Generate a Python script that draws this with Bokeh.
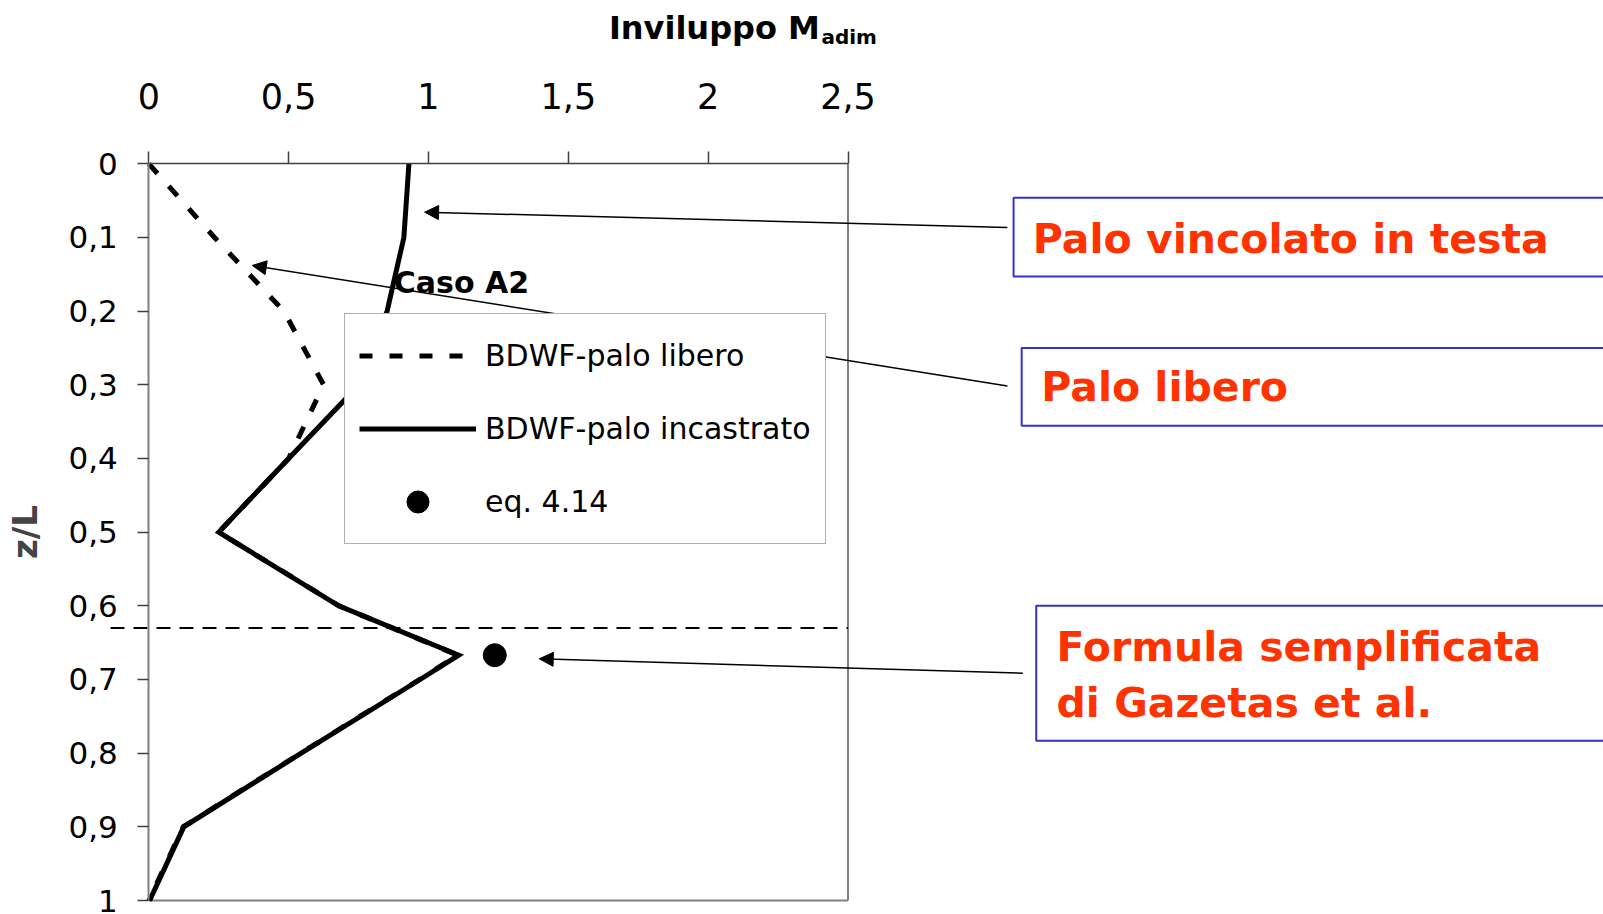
from bokeh.plotting import figure
from bokeh.models import (Range1d, FixedTicker, Label, Legend, LegendItem,
                          Arrow, NormalHead, BoxAnnotation)
from bokeh.embed import file_html
from bokeh.resources import INLINE

# ---------------- data ----------------
z_levels = [0.0, 0.1, 0.2, 0.3, 0.4, 0.5, 0.6, 0.667, 0.7, 0.8, 0.9, 1.0]
m_libero = [0.0, 0.235, 0.483, 0.625, 0.50, 0.25, 0.68, 1.105, 0.968, 0.543, 0.123, 0.0]
m_incastrato = [0.930, 0.912, 0.852, 0.752, 0.50, 0.25, 0.679, 1.108, 0.970, 0.545, 0.125, 0.003]
eq414_m = [1.237]
eq414_z = [0.667]
z_ref = 0.63

x_ticks = [0, 0.5, 1, 1.5, 2, 2.5]
x_tick_labels = ["0", "0,5", "1", "1,5", "2", "2,5"]
z_ticks = [0, 0.1, 0.2, 0.3, 0.4, 0.5, 0.6, 0.7, 0.8, 0.9, 1]
z_tick_labels = ["0", "0,1", "0,2", "0,3", "0,4", "0,5", "0,6", "0,7", "0,8", "0,9", "1"]

series_labels = ["BDWF-palo libero", "BDWF-palo incastrato", "eq. 4.14"]
callouts = ["Palo vincolato in testa", "Palo libero",
            "Formula semplificata", "di Gazetas et al."]

RED = "#FF3300"
BLUE = "#3333CC"
FONT = "DejaVu Sans"

W, H = 1603, 914
# the plotting frame covers the whole canvas; the chart axes are pinned at x=0 / z=0
p = figure(width=W, height=H, output_backend="svg", toolbar_location=None,
           x_range=Range1d(-0.5303, 5.2013), y_range=Range1d(1.0190, -0.2217),
           x_axis_location="above", y_axis_location="left",
           min_border_left=0, min_border_right=0, min_border_top=0, min_border_bottom=0)
p.outline_line_color = None
p.grid.visible = False
p.background_fill_color = "white"
p.border_fill_color = "white"

# x axis (top, pinned at z = 0)
xa = p.xaxis[0]
xa.fixed_location = 0
xa.ticker = FixedTicker(ticks=x_ticks)
xa.major_label_overrides = dict(zip(x_ticks, x_tick_labels))
xa.bounds = (x_ticks[0], x_ticks[-1])
xa.major_tick_out = 12
xa.major_tick_in = 0
xa.minor_tick_out = 0
xa.minor_tick_in = 0
xa.axis_line_color = "#404040"
xa.axis_line_width = 1.5
xa.major_tick_line_color = "#404040"
xa.major_tick_line_width = 1.5
xa.major_label_standoff = 43
xa.major_label_text_font = FONT
xa.major_label_text_font_size = "35px"
xa.major_label_text_color = "black"

# y axis (left, pinned at x = 0)
ya = p.yaxis[0]
ya.fixed_location = 0
ya.ticker = FixedTicker(ticks=z_ticks)
ya.major_label_overrides = dict(zip(z_ticks, z_tick_labels))
ya.bounds = (z_ticks[0], z_ticks[-1])
ya.major_tick_out = 11
ya.major_tick_in = 0
ya.minor_tick_out = 0
ya.minor_tick_in = 0
ya.axis_line_color = "#808080"
ya.axis_line_width = 2
ya.major_tick_line_color = "#404040"
ya.major_tick_line_width = 1.5
ya.major_label_standoff = 20
ya.major_label_text_font = FONT
ya.major_label_text_font_size = "31px"
ya.major_label_text_color = "black"
ya.axis_label = "z/L"
ya.axis_label_text_font = FONT
ya.axis_label_text_font_style = "bold"
ya.axis_label_text_font_size = "34px"
ya.axis_label_standoff = 20

# chart frame right / bottom borders
p.segment(x0=[x_ticks[-1], x_ticks[0]], y0=[z_ticks[0], z_ticks[-1]],
          x1=[x_ticks[-1], x_ticks[-1]], y1=[z_ticks[-1], z_ticks[-1]],
          line_color="#808080", line_width=2)

# reference horizontal dashed line
p.segment(x0=[-0.137], y0=[z_ref], x1=[x_ticks[-1]], y1=[z_ref],
          line_color="black", line_width=2, line_dash="14 9")

# series
r_lib = p.line(m_libero, z_levels, line_color="black", line_width=5,
               line_dash="13 17", line_join="miter")
r_inc = p.line(m_incastrato, z_levels, line_color="black", line_width=5, line_join="miter")
r_eq = p.scatter(eq414_m, eq414_z, size=23, color="black")

# Caso A2
p.add_layout(Label(x=0.876, y=0.1615, text="Caso A2", text_font=FONT, text_font_style="bold",
                   text_font_size="30px", text_baseline="alphabetic", text_color="black"))

# legend
legend = Legend(items=[LegendItem(label=series_labels[0], renderers=[r_lib]),
                       LegendItem(label=series_labels[1], renderers=[r_inc]),
                       LegendItem(label=series_labels[2], renderers=[r_eq])],
                location=(344, 370), orientation="vertical",
                glyph_width=117, glyph_height=55, label_height=55, spacing=18,
                padding=14, margin=0, label_standoff=9,
                label_text_font=FONT, label_text_font_size="30px", label_text_color="black",
                border_line_color="#606060", border_line_width=1.5,
                background_fill_color="white", background_fill_alpha=1.0)
p.add_layout(legend, "center")

# callout boxes
for left, top, bottom in [(3.092, 0.0462, 0.153), (3.121, 0.250, 0.3556), (3.173, 0.600, 0.783)]:
    p.add_layout(BoxAnnotation(left=left, right=5.6, top=top, bottom=bottom,
                               fill_color="white", fill_alpha=1.0,
                               line_color=BLUE, line_width=2, line_alpha=1.0))

for txt, x, y in [(callouts[0], 3.161, 0.1023), (callouts[1], 3.191, 0.3035),
                  (callouts[2], 3.2455, 0.6556), (callouts[3], 3.2455, 0.7319)]:
    p.add_layout(Label(x=x, y=y, text=txt, text_font=FONT, text_font_style="bold",
                       text_font_size="41px", text_color=RED, text_baseline="alphabetic"))

# arrows
for xs, ys, xe, ye in [(3.070, 0.0865, 0.986, 0.0656),
                       (3.070, 0.3015, 0.370, 0.138),
                       (3.125, 0.6915, 1.396, 0.672)]:
    p.add_layout(Arrow(x_start=xs, y_start=ys, x_end=xe, y_end=ye, line_color="black",
                       line_width=1.5,
                       end=NormalHead(size=14, fill_color="black", line_color="black")))

# top title
p.add_layout(Label(x=1.645, y=-0.185, text="Inviluppo M", text_font=FONT,
                   text_font_style="bold", text_font_size="32px", text_color="black",
                   text_baseline="alphabetic"))
p.add_layout(Label(x=2.405, y=-0.172, text="adim", text_font=FONT,
                   text_font_style="bold", text_font_size="20px", text_color="black",
                   text_baseline="alphabetic"))

open("out.html", "w").write(file_html(p, INLINE))
